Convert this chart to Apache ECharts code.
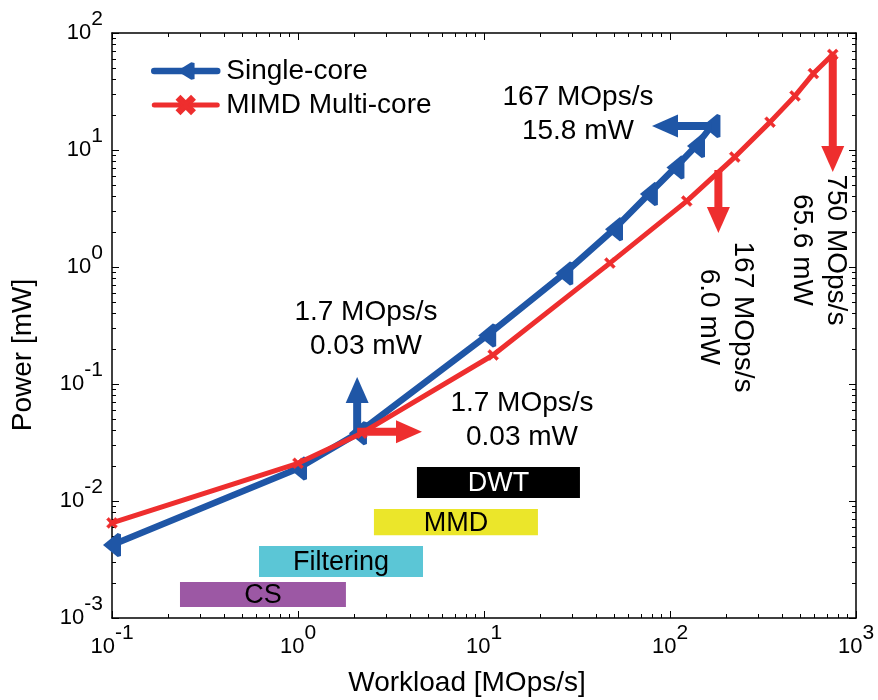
<!DOCTYPE html>
<html>
<head>
<meta charset="utf-8">
<script src="https://cdn.jsdelivr.net/npm/echarts@6/dist/echarts.min.js"></script>
<style>
html,body{margin:0;padding:0;background:#fff;}
#chart{width:878px;height:700px;}
</style>
</head>
<body>
<div id="chart"></div>
<script>
// ---------------- data ----------------
const workloadSingle = [0.1, 1.0, 2.1, 10.4, 27, 50, 77, 107, 138, 167];
const powerSingle    = [0.0042, 0.019, 0.038, 0.26, 0.88, 2.1, 4.2, 7.1, 10.8, 16.0];
const workloadMimd   = [0.1, 1.0, 2.2, 11.2, 47.5, 123, 223, 345, 470, 590, 750];
const powerMimd      = [0.0065, 0.021, 0.038, 0.177, 1.08, 3.66, 8.7, 17.3, 29, 45, 65.6];

const taskNames  = ['DWT', 'MMD', 'Filtering', 'CS'];
const taskStart  = [4.36, 2.56, 0.617, 0.232];
const taskEnd    = [32.8, 19.5, 4.7, 1.81];
const taskTop    = [0.0195, 0.00855, 0.00412, 0.00203];
const taskBottom = [0.0106, 0.0051, 0.00224, 0.00124];

const arrowFromX = [2.08, 2.08, 167, 182, 750];
const arrowFromY = [0.039, 0.039, 16.0, 6.75, 65.6];
const arrowToX   = [2.08, 4.64, 80, 182, 750];
const arrowToY   = [0.115, 0.039, 16.0, 1.95, 6.49];
const arrowSeries = ['Single-core', 'MIMD Multi-core', 'Single-core', 'MIMD Multi-core', 'MIMD Multi-core'];

const noteText = ['1.7 MOps/s\n0.03 mW', '1.7 MOps/s\n0.03 mW', '167 MOps/s\n15.8 mW', '167 MOps/s\n6.0 mW', '750 MOps/s\n65.6 mW'];
const noteX    = [2.32, 16.0, 32, 200, 630];
const noteY    = [0.295, 0.0492, 20.3, 0.374, 1.4];
const noteRot  = [0, 0, 0, -90, -90];

const xMajorExp = [-1, 0, 1, 2, 3];
const yMajorExp = [-3, -2, -1, 0, 1, 2];

// ---------------- style ----------------
const FONT = '"Liberation Sans", Arial, Helvetica, sans-serif';
const BLUE = '#1f56a6';
const RED = '#ee2e2e';
const taskColors = ['#000000', '#ebe62a', '#5bc6d6', '#9c58a4'];
const taskTextColors = ['#ffffff', '#000000', '#000000', '#000000'];
const seriesColor = { 'Single-core': BLUE, 'MIMD Multi-core': RED };
const LEFT_TRI = 'path://M0,11 L13,1 L16,2 L16,20 L13,21 Z';
const X_MARK = 'path://M2,0 L5,3 L8,0 L10,2 L7,5 L10,8 L8,10 L5,7 L2,10 L0,8 L3,5 L0,2 Z';

function minorExps(lo, hi) {
  const out = [];
  for (let e = lo; e < hi; e++) {
    for (let k = 2; k <= 9; k++) out.push(e + Math.log10(k));
  }
  return out;
}

const labelRich = {
  b: { fontSize: 22, fontFamily: FONT, color: '#000', verticalAlign: 'bottom' },
  s: { fontSize: 21, fontFamily: FONT, color: '#000', verticalAlign: 'bottom', padding: [0, 0, 14, 0] }
};
function expLabel(v) {
  const e = Math.round(Math.log10(v));
  return '{b|10}{s|' + e + '}';
}

function overlayAxis(pos, lo, hi, values, len, showLine) {
  return {
    type: 'value', position: pos, min: lo, max: hi,
    axisLine: { show: showLine, onZero: false, lineStyle: { color: '#000', width: 1.5 } },
    axisTick: { show: true, inside: true, length: len, customValues: values, lineStyle: { color: '#000', width: 1 } },
    axisLabel: { show: false },
    splitLine: { show: false }
  };
}

const chart = echarts.init(document.getElementById('chart'), null, { renderer: 'canvas' });

const option = {
  animation: false,
  backgroundColor: '#fff',
  grid: { left: 112, right: 22, top: 33, bottom: 82, containLabel: false, outerBoundsMode: 'none' },
  legend: {
    orient: 'vertical', left: 146, top: 52,
    itemWidth: 63, itemHeight: 22, itemGap: 6,
    lineStyle: { width: 'inherit' },
    textStyle: { fontSize: 28, fontFamily: FONT, color: '#000', lineHeight: 28, padding: [0, 0, 0, 4] },
    data: ['Single-core', 'MIMD Multi-core']
  },
  xAxis: [
    {
      type: 'log', logBase: 10, min: 0.1, max: 1000, position: 'bottom',
      axisLine: { show: true, onZero: false, lineStyle: { color: '#000', width: 1.5 } },
      axisTick: { show: true, inside: true, length: 7, lineStyle: { color: '#000', width: 1 } },
      axisLabel: { show: true, margin: 5, formatter: expLabel, rich: labelRich, showMinLabel: true, showMaxLabel: true },
      splitLine: { show: false }, minorTick: { show: false }
    },
    overlayAxis('bottom', -1, 3, minorExps(-1, 3), 4, false),
    overlayAxis('top', -1, 3, xMajorExp, 7, true),
    overlayAxis('top', -1, 3, minorExps(-1, 3), 4, false)
  ],
  yAxis: [
    {
      type: 'log', logBase: 10, min: 0.001, max: 100, position: 'left',
      axisLine: { show: true, onZero: false, lineStyle: { color: '#000', width: 1.5 } },
      axisTick: { show: true, inside: true, length: 7, lineStyle: { color: '#000', width: 1 } },
      axisLabel: { show: true, margin: 9, formatter: expLabel, rich: labelRich, padding: [0, 0, 14, 0], showMinLabel: true, showMaxLabel: true },
      splitLine: { show: false }, minorTick: { show: false }
    },
    overlayAxis('left', -3, 2, minorExps(-3, 2), 4, false),
    overlayAxis('right', -3, 2, yMajorExp, 7, true),
    overlayAxis('right', -3, 2, minorExps(-3, 2), 4, false)
  ],
  graphic: [
    { type: 'text', x: 467, y: 683, style: { text: 'Workload [MOps/s]', font: '28px ' + FONT, fill: '#000', textAlign: 'center', textVerticalAlign: 'middle' } },
    { type: 'text', x: 23, y: 355, rotation: Math.PI / 2, style: { text: 'Power [mW]', font: '28px ' + FONT, fill: '#000', textAlign: 'center', textVerticalAlign: 'middle' } }
  ],
  series: [
    {
      name: 'tasks', type: 'custom', xAxisIndex: 0, yAxisIndex: 0, z: 1, silent: true,
      encode: { x: [0, 2], y: [1, 3] },
      data: taskNames.map((n, i) => [taskStart[i], taskTop[i], taskEnd[i], taskBottom[i]]),
      renderItem: function (params, api) {
        const i = params.dataIndex;
        const p1 = api.coord([api.value(0), api.value(1)]);
        const p2 = api.coord([api.value(2), api.value(3)]);
        return {
          type: 'group',
          children: [
            { type: 'rect', shape: { x: p1[0], y: p1[1], width: p2[0] - p1[0], height: p2[1] - p1[1] }, style: { fill: taskColors[i] } },
            { type: 'text', x: (p1[0] + p2[0]) / 2, y: (p1[1] + p2[1]) / 2 + 1, style: { text: taskNames[i], font: '27px ' + FONT, fill: taskTextColors[i], textAlign: 'center', textVerticalAlign: 'middle' } }
          ]
        };
      }
    },
    {
      name: 'Single-core', type: 'line', xAxisIndex: 0, yAxisIndex: 0, z: 3,
      data: workloadSingle.map((x, i) => [x, powerSingle[i]]),
      color: BLUE,
      lineStyle: { color: BLUE, width: 6.5, cap: 'round', join: 'round' },
      symbol: LEFT_TRI, symbolSize: [18, 24], symbolKeepAspect: false,
      itemStyle: { color: BLUE, borderWidth: 0 },
      showAllSymbol: true
    },
    {
      name: 'MIMD Multi-core', type: 'line', xAxisIndex: 0, yAxisIndex: 0, z: 4,
      data: workloadMimd.map((x, i) => [x, powerMimd[i]]),
      color: RED,
      lineStyle: { color: RED, width: 5, cap: 'round', join: 'round' },
      symbol: X_MARK, symbolSize: 11,
      itemStyle: { color: RED, borderColor: RED, borderWidth: 0.5 },
      showAllSymbol: true
    },
    {
      name: 'arrows', type: 'custom', xAxisIndex: 0, yAxisIndex: 0, z: 5, silent: true,
      encode: { x: [0, 2], y: [1, 3] },
      data: arrowFromX.map((x, i) => [x, arrowFromY[i], arrowToX[i], arrowToY[i]]),
      renderItem: function (params, api) {
        const i = params.dataIndex;
        const col = seriesColor[arrowSeries[i]];
        const p1 = api.coord([api.value(0), api.value(1)]);
        const p2 = api.coord([api.value(2), api.value(3)]);
        const dx = p2[0] - p1[0], dy = p2[1] - p1[1];
        const len = Math.sqrt(dx * dx + dy * dy) || 1;
        const ux = dx / len, uy = dy / len;
        const nx = -uy, ny = ux;
        const L = 26, W = 23;
        const bx = p2[0] - ux * L, by = p2[1] - uy * L;
        return {
          type: 'group',
          children: [
            { type: 'line', shape: { x1: p1[0], y1: p1[1], x2: bx + ux * 2, y2: by + uy * 2 }, style: { stroke: col, lineWidth: 8 } },
            { type: 'polygon', shape: { points: [[p2[0], p2[1]], [bx + nx * W / 2, by + ny * W / 2], [bx - nx * W / 2, by - ny * W / 2]] }, style: { fill: col } }
          ]
        };
      }
    },
    {
      name: 'notes', type: 'custom', xAxisIndex: 0, yAxisIndex: 0, z: 6, silent: true,
      data: noteX.map((x, i) => [x, noteY[i]]),
      renderItem: function (params, api) {
        const i = params.dataIndex;
        const p = api.coord([api.value(0), api.value(1)]);
        return {
          type: 'text', x: p[0], y: p[1], rotation: noteRot[i] * Math.PI / 180,
          style: { text: noteText[i], font: '28px ' + FONT, fill: '#000', textAlign: 'center', textVerticalAlign: 'middle', lineHeight: 34 }
        };
      }
    }
  ]
};
chart.setOption(option);
</script>
</body>
</html>
